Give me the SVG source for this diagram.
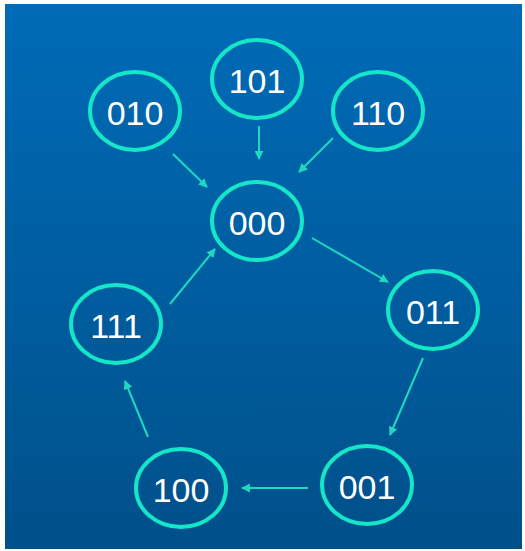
<svg xmlns="http://www.w3.org/2000/svg" width="525" height="551" viewBox="0 0 525 551">
<defs>
<linearGradient id="bg" x1="0" y1="0" x2="0" y2="1">
<stop offset="0" stop-color="#006bb7"/>
<stop offset="1" stop-color="#00508a"/>
</linearGradient>
<marker id="ah" viewBox="0 0 10 10" refX="9" refY="5" markerWidth="4.5" markerHeight="4.5" orient="auto" markerUnits="strokeWidth">
<path d="M0,0 L10,5 L0,10 z" fill="#1ed8c2"/>
</marker>
<style>
.n ellipse{fill:none;stroke:#14e6c8;stroke-width:4}
.n text{fill:#ffffff;font-family:"Liberation Sans",Arial,sans-serif;font-size:34px;text-anchor:middle;dominant-baseline:central}
#edges line{stroke:#1ed8c2;stroke-width:2;marker-end:url(#ah)}
</style>
</defs>
<rect width="525" height="551" fill="#ffffff"/>
<rect x="5" y="4" width="517" height="545" fill="url(#bg)"/>
<g id="edges">
<line x1="173" y1="154" x2="207" y2="187"/>
<line x1="259" y1="126" x2="259" y2="159"/>
<line x1="333" y1="138" x2="299" y2="172"/>
<line x1="312" y1="238" x2="388" y2="282"/>
<line x1="170" y1="304" x2="215" y2="249"/>
<line x1="423" y1="358" x2="390" y2="435"/>
<line x1="308" y1="488" x2="242" y2="488"/>
<line x1="148" y1="437" x2="125" y2="381"/>
</g>
<g id="n010" class="n"><ellipse cx="135" cy="111" rx="45" ry="39"/><text x="135" y="113">010</text></g>
<g id="n101" class="n"><ellipse cx="257" cy="79" rx="45" ry="39"/><text x="257" y="81">101</text></g>
<g id="n110" class="n"><ellipse cx="378" cy="111" rx="45" ry="39"/><text x="378" y="113">110</text></g>
<g id="n000" class="n"><ellipse cx="257" cy="221" rx="45" ry="39"/><text x="257" y="223">000</text></g>
<g id="n111" class="n"><ellipse cx="116" cy="324" rx="45" ry="39"/><text x="116" y="326">111</text></g>
<g id="n011" class="n"><ellipse cx="433" cy="310" rx="45" ry="39"/><text x="433" y="312">011</text></g>
<g id="n100" class="n"><ellipse cx="181" cy="488" rx="45" ry="39"/><text x="181" y="490">100</text></g>
<g id="n001" class="n"><ellipse cx="367" cy="485" rx="45" ry="39"/><text x="367" y="487">001</text></g>
</svg>
